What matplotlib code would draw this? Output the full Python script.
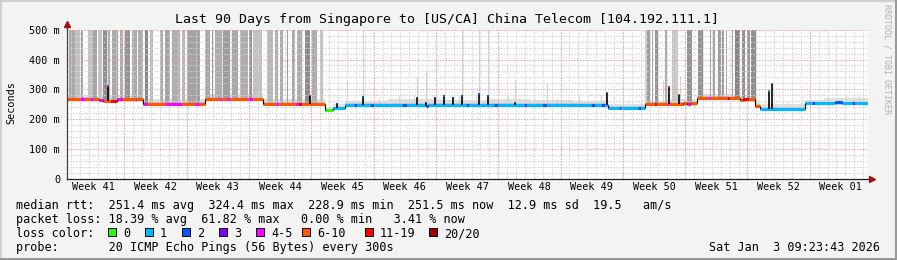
import numpy as np
import matplotlib.pyplot as plt
from matplotlib.patches import Rectangle
from matplotlib.lines import Line2D

plt.rcParams['font.family'] = ['DejaVu Sans Mono']

# --- data (x in days from start of the 90-day window, y in ms) ---
loss_colors = ['#26ff00', '#00b8ff', '#0059ff', '#7e00ff', '#ff00ff', '#ff5500', '#ff0000', '#a10000']
loss_labels = ['0', '1', '2', '3', '4-5', '6-10', '11-19', '20/20']

# median rtt steps: start day, rtt, loss colour index
med_start = [0.0, 1.5, 2.0, 2.6, 2.9, 3.6, 4.0, 4.8, 5.6, 6.3, 7.7, 7.9,
             8.5, 9.0, 11.0, 12.9, 14.4, 14.8, 15.5, 17.2, 17.4, 18.0, 18.3, 20.3, 20.9,
             22.0, 23.5, 23.8, 25.6, 25.9, 26.4, 29.0, 29.9,
             31.2, 32.2, 32.6, 34.0, 34.5, 37.6, 38.2, 40.3, 40.6, 44.8, 45.2, 48.0, 48.4,
             51.3, 51.7, 53.4, 53.9, 58.9, 59.3, 60.0, 60.4,
             60.8, 62.0, 62.3, 64.2, 64.5,
             64.9, 66.0, 66.3, 67.4, 67.6, 69.2, 69.7, 70.0, 70.8, 72.0, 72.3, 74.2, 74.5,
             75.6, 76.0, 76.6, 77.3, 77.9, 82.9, 83.7, 84.0, 86.3, 87.1, 88.2, 88.5]
med_rtt = [267, 267, 267, 267, 267, 264, 262, 261, 266, 267, 267, 267,
           250, 250, 249, 250, 250, 250, 268, 268, 268, 269, 269, 268, 268,
           252, 252, 252, 252, 252, 252, 229, 237,
           248, 248, 248, 248, 248, 248, 248, 244, 248, 248, 248, 248, 248,
           248, 248, 248, 248, 248, 248, 248, 248,
           237, 237, 237, 237, 237,
           250, 250, 250, 250, 252, 253, 252, 253, 270, 270, 270, 270, 270,
           264, 268, 268, 243, 234, 253, 253, 253, 256, 253, 253, 253]
med_loss = [5, 4, 5, 4, 5, 4, 5, 6, 4, 5, 3, 5,
            4, 5, 4, 5, 4, 5, 5, 4, 5, 4, 5, 4, 5,
            5, 4, 5, 4, 6, 5, 0, 1,
            1, 2, 1, 2, 1, 2, 1, 2, 1, 2, 1, 2, 1,
            2, 1, 2, 1, 2, 1, 2, 1,
            1, 2, 1, 2, 1,
            5, 6, 5, 4, 5, 5, 4, 5, 5, 4, 5, 6, 5,
            5, 6, 5, 5, 1, 1, 2, 1, 2, 1, 2, 1]
end_day = 90.0

# smoke band (min..max of the pings)
smoke_x = [0, 4.6, 8.5, 15.5, 22.0, 29.0, 29.9, 31.2, 36, 42, 47, 52, 57, 60.8,
           64.9, 67.5, 70.8, 75.6, 77.3, 77.9, 82.9, 85, 87, 90]
smoke_lo = [262, 256, 245, 262, 246, 224, 232, 243, 243, 243, 243, 243, 243, 232,
            244, 245, 263, 258, 238, 229, 247, 247, 247, 247]
smoke_mid = [274, 270, 257, 275, 258, 233, 242, 254, 254, 254, 254, 254, 254, 243,
             256, 258, 276, 270, 250, 240, 259, 259, 259, 259]
smoke_hi = [282, 280, 268, 285, 268, 240, 250, 262, 266, 264, 268, 265, 262, 252,
            262, 268, 285, 280, 258, 250, 265, 270, 272, 272]

# full-height smoke columns (very slow pings): start, end, grey level
tall_start = [0.2, 0.9, 1.6, 2.4, 2.9, 3.5, 4.0, 4.6, 5.1, 6.0, 6.5, 7.3, 8.0, 8.8, 9.3,
              10.4, 11.0, 11.8, 12.9, 13.5, 15.5, 16.3, 16.6, 17.5, 18.5, 19.4, 20.4, 20.9,
              22.5, 23.4, 23.9, 24.7, 25.3, 25.8, 26.7, 27.5, 28.4,
              64.9, 65.2, 65.7, 66.1, 67.2, 68.0, 69.7, 70.9, 72.2, 72.6, 73.1, 73.6, 74.0,
              74.7, 75.1, 75.8, 76.4, 76.9]
tall_end = [0.9, 1.5, 1.8, 2.9, 3.4, 3.9, 4.5, 4.8, 5.7, 6.3, 7.1, 7.9, 8.5, 9.1, 9.7,
            10.8, 11.6, 12.7, 13.3, 14.9, 16.1, 16.4, 17.4, 18.3, 19.2, 20.3, 20.8, 21.9,
            23.1, 23.7, 24.3, 24.8, 25.6, 26.4, 27.3, 28.1, 28.8,
            65.2, 65.5, 65.8, 66.4, 67.4, 68.7, 70.2, 71.5, 72.4, 72.8, 73.5, 73.8, 74.2,
            74.8, 75.6, 76.2, 76.7, 77.4]
tall_shade = [0.66, 0.76, 0.64, 0.76, 0.64, 0.76, 0.56, 0.68, 0.66, 0.68, 0.58, 0.66, 0.68,
              0.52, 0.72, 0.68, 0.64, 0.68, 0.72, 0.64, 0.66, 0.61, 0.68, 0.62, 0.66, 0.68,
              0.58, 0.76, 0.72, 0.66, 0.68, 0.61, 0.66, 0.68, 0.55, 0.68, 0.76,
              0.82, 0.61, 0.66, 0.58, 0.68, 0.78, 0.58, 0.58, 0.64, 0.64, 0.61, 0.61, 0.64,
              0.64, 0.52, 0.58, 0.58, 0.56]

# thin light columns: day, top (ms)
thin_x = [31.5, 33.3, 39.3, 40.3, 44.4, 46.3, 47.3, 50.3, 53.9, 68.9, 67.0]
thin_top = [330, 500, 340, 360, 500, 500, 500, 330, 320, 345, 330]

# light fuzz above the band
fuzz_x = [35.0, 37.3, 39.0, 44.0, 46.0, 49.5, 52.5, 55.0, 57.5, 60.0, 63.0, 81.0,
          85.5, 87.5, 89.0]
fuzz_top = [272, 278, 276, 280, 285, 278, 274, 272, 276, 280, 262, 258, 282, 280, 278]

# short black spikes: day, top (ms), colour of tip
spike_x = [0.05, 4.6, 27.3, 30.3, 33.3, 39.3, 40.3, 41.3, 42.4, 43.4, 44.4, 46.3, 47.3,
           50.3, 60.7, 67.6, 68.8, 78.9, 79.2]
spike_top = [330, 313, 282, 255, 277, 275, 258, 275, 280, 275, 280, 286, 280,
             258, 292, 310, 285, 297, 322]
spike_loss = [1, 4, 5, 2, 2, 2, 2, 3, 2, 2, 2, 2, 2, 2, 1, 4, 5, 1, 1]

week_labels = ['Week 41', 'Week 42', 'Week 43', 'Week 44', 'Week 45', 'Week 46', 'Week 47',
               'Week 48', 'Week 49', 'Week 50', 'Week 51', 'Week 52', 'Week 01']
first_week = 6.45

# --- figure ---
W, H = 897, 260
fig = plt.figure(figsize=(W / 100, H / 100), dpi=100, facecolor='#f3f3f3')


def fx(px):
    return px / W


def fy(py):
    return 1 - py / H


ax = fig.add_axes([fx(67), fy(178.7), fx(868) - fx(67), fy(29.7) - fy(178.7)])
ax.set_facecolor('white')
ax.set_xlim(0, 90)
ax.set_ylim(0, 500)
for s in ax.spines.values():
    s.set_visible(False)

dots = (0, (1.4, 1.4))
# grid
for d in np.arange(first_week - 6, 90, 1.0):
    ax.axvline(d, color='#d2d2d2', lw=0.72, ls=dots, zorder=2)
for v in range(20, 500, 20):
    if v % 100:
        ax.axhline(v, color='#d2d2d2', lw=0.72, ls=dots, zorder=2)
for k in range(12):
    ax.axvline(first_week + 7 * k, color='#f0a0a0', lw=0.72, ls=dots, zorder=2.1)
for v in range(100, 501, 100):
    ax.axhline(v, color='#f0a0a0', lw=0.72, ls=dots, zorder=2.1)

# smoke
ax.fill_between(smoke_x, smoke_lo, smoke_hi, step='post', color='#e0e0e0', lw=0, zorder=1)
ax.fill_between(smoke_x, smoke_lo, smoke_mid, step='post', color='#c6c6c6', lw=0, zorder=1.1)
ax.vlines(fuzz_x, 250, fuzz_top, color='#d4d4d4', lw=0.8, zorder=1)
ax.vlines(thin_x, 250, thin_top, color='#d2d2d2', lw=0.8, zorder=1)

med_start_a = np.array(med_start)
med_rtt_a = np.array(med_rtt)


def level(d):
    return med_rtt_a[np.searchsorted(med_start_a, d, side='right') - 1]


tall_start_a = np.array(tall_start)
tall_end_a = np.array(tall_end)
bottoms = level(tall_start_a) - 5
ax.bar(tall_start_a, 510 - bottoms, width=tall_end_a - tall_start_a, bottom=bottoms,
       align='edge', color=[str(s) for s in tall_shade], lw=0, zorder=1.2)

# median steps
ends = med_start[1:] + [end_day]
lc = ax.hlines(med_rtt, med_start, ends, colors=[loss_colors[i] for i in med_loss],
               lw=2.2, zorder=4)
lc.set_capstyle('butt')
jumps = [(med_start[i], med_rtt[i - 1], med_rtt[i]) for i in range(1, len(med_start))
         if med_rtt[i] != med_rtt[i - 1]]
ax.vlines([j[0] for j in jumps], [j[1] for j in jumps], [j[2] for j in jumps],
          color='black', lw=0.8, zorder=4.1)

# spikes
spike_x_a = np.array(spike_x)
spike_top_a = np.array(spike_top)
ax.vlines(spike_x_a, level(spike_x_a), spike_top_a, color='black', lw=1.2, zorder=4.2)
ax.vlines(spike_x_a, spike_top_a - 5, spike_top_a, colors=[loss_colors[i] for i in spike_loss],
          lw=1.2, zorder=4.3)

# ticks
ax.set_xticks([first_week - 3.5 + 7 * k for k in range(13)])
ax.set_xticklabels(week_labels)
ax.set_yticks(range(0, 501, 100))
ax.set_yticklabels(['0'] + ['%d m' % v for v in range(100, 501, 100)])
ax.tick_params(axis='x', length=0, pad=2.5, labelsize=7.3)
ax.tick_params(axis='y', length=0, pad=5, labelsize=7.3)

# axes with arrows
fig.add_artist(Line2D([fx(67), fx(67)], [fy(178.7), fy(25)], color='#404040', lw=0.9))
fig.add_artist(Line2D([fx(67), fx(871)], [fy(178.7), fy(178.7)], color='#202020', lw=0.9))
fig.add_artist(Line2D([fx(67)], [fy(24)], marker='^', ms=4.5, color='#a01010', lw=0))
fig.add_artist(Line2D([fx(872)], [fy(178.7)], marker='>', ms=4.5, color='#a01010', lw=0))

# texts
fig.text(fx(447), fy(19.3), 'Last 90 Days from Singapore to [US/CA] China Telecom [104.192.111.1]',
         ha='center', va='center', fontsize=9.5)
fig.text(fx(11), fy(103), 'Seconds', rotation=90, ha='center', va='center', fontsize=7.3)
fig.text(fx(887), fy(4), 'RRDTOOL / TOBI OETIKER', rotation=270, ha='center', va='top',
         fontsize=6, color='#b0b0b0')

lines = [
    (204.3, 'median rtt:  251.4 ms avg  324.4 ms max  228.9 ms min  251.5 ms now  12.9 ms sd  19.5   am/s'),
    (218.0, 'packet loss: 18.39 % avg  61.82 % max   0.00 % min   3.41 % now'),
    (232.3, 'loss color:'),
    (246.3, 'probe:       20 ICMP Echo Pings (56 Bytes) every 300s'),
]
for y, t in lines:
    fig.text(fx(16), fy(y), t, ha='left', va='center_baseline', fontsize=8.5)

box_px = [108, 145, 182, 219, 256, 302, 365, 429]
for bx, c, lab in zip(box_px, loss_colors, loss_labels):
    fig.add_artist(Rectangle((fx(bx), fy(236)), fx(8), 8 / H, facecolor=c,
                             edgecolor='black', lw=0.7, transform=fig.transFigure))
    fig.text(fx(bx + 15), fy(232.3), lab, ha='left', va='center_baseline', fontsize=8.5)

fig.text(fx(880), fy(246.3), 'Sat Jan  3 09:23:43 2026', ha='right', va='center_baseline',
         fontsize=8.5)

# outer 3d frame
fig.add_artist(Line2D([0, 1], [fy(0.5), fy(0.5)], color='#d0d0d0', lw=1.5))
fig.add_artist(Line2D([fx(0.5), fx(0.5)], [0, 1], color='#d0d0d0', lw=1.5))
fig.add_artist(Line2D([0, 1], [fy(259), fy(259)], color='#9a9a9a', lw=1.5))
fig.add_artist(Line2D([fx(896), fx(896)], [0, 1], color='#9a9a9a', lw=1.5))

fig.savefig('out.png', dpi=100, facecolor=fig.get_facecolor())
